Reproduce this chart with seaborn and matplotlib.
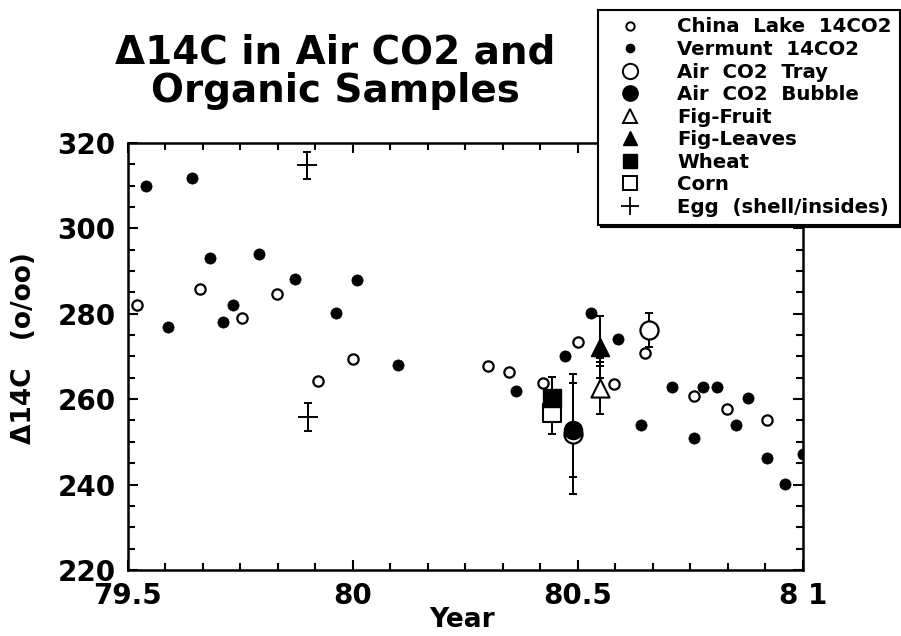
import matplotlib
matplotlib.use("Agg")
import matplotlib.pyplot as plt
from matplotlib.lines import Line2D
from matplotlib.ticker import MultipleLocator
import seaborn as sns

# data
china_x = [79.52, 79.66, 79.753, 79.831, 79.922, 80.0, 80.3, 80.347, 80.422,
           80.5, 80.58, 80.649, 80.758, 80.831, 80.92]
china_y = [282, 285.8, 279, 284.6, 264.3, 269.4, 267.8, 266.4, 263.8,
           273.4, 263.6, 270.8, 260.7, 257.7, 255.1]

verm_x = [79.54, 79.589, 79.642, 79.682, 79.711, 79.733, 79.791, 79.871, 79.962,
          80.009, 80.10, 80.362, 80.471, 80.529, 80.589, 80.64, 80.709, 80.758,
          80.778, 80.809, 80.851, 80.878, 80.92, 80.96, 81.0]
verm_y = [310, 276.9, 311.8, 293, 278, 282, 294, 288.2, 280.2,
          288, 268, 262, 270.1, 280.2, 274.1, 254, 262.9, 251,
          262.9, 262.9, 254, 260.3, 246.2, 240.1, 247.2]

tray_x = [80.489, 80.658]
tray_y = [251.8, 276.2]
tray_err = [14, 4]

bubble_x = [80.489]
bubble_y = [252.8]
bubble_err = [11]

fruit_x = [80.549]
fruit_y = [262.6]
fruit_err = [6]

leaves_x = [80.549]
leaves_y = [272.2]
leaves_err = [7.3]

wheat_x = [80.442]
wheat_y = [260.3]
wheat_err = [5]

corn_x = [80.442]
corn_y = [256.8]
corn_err = [5]

egg_x = [79.898, 79.9]
egg_y = [314.8, 255.8]
egg_err = [3.2, 3.2]
egg2_x = [80.549, 80.549, 80.549]
egg2_y = [269.6, 268.7, 267.8]

sns.set_style("ticks")
plt.rcParams['font.family'] = ['DejaVu Sans']
plt.rcParams['font.weight'] = 'bold'
plt.rcParams['text.color'] = 'black'
plt.rcParams['axes.labelcolor'] = 'black'
plt.rcParams['xtick.color'] = 'black'
plt.rcParams['ytick.color'] = 'black'

fig = plt.figure(figsize=(9.01, 6.36), dpi=100)
ax = fig.add_axes([0.142, 0.104, 0.749, 0.671])

ekw = dict(ecolor='black', elinewidth=1.4, capsize=3, capthick=1.4, linestyle='none', zorder=2)

ax.errorbar(wheat_x, wheat_y, yerr=wheat_err, fmt='none', **ekw)
ax.errorbar(corn_x, corn_y, yerr=corn_err, fmt='none', **ekw)
ax.errorbar(tray_x, tray_y, yerr=tray_err, fmt='none', **ekw)
ax.errorbar(bubble_x, bubble_y, yerr=bubble_err, fmt='none', **ekw)
ax.errorbar(fruit_x, fruit_y, yerr=fruit_err, fmt='none', **ekw)
ax.errorbar(leaves_x, leaves_y, yerr=leaves_err, fmt='none', **ekw)
ax.errorbar(egg_x, egg_y, yerr=egg_err, fmt='none', **ekw)

sns.scatterplot(x=china_x, y=china_y, ax=ax, marker='o', s=55,
                facecolor='white', edgecolor='black', linewidth=1.6, zorder=3)
sns.scatterplot(x=verm_x, y=verm_y, ax=ax, marker='o', s=65,
                color='black', edgecolor='black', linewidth=0.5, zorder=3)
sns.scatterplot(x=corn_x, y=corn_y, ax=ax, marker='s', s=150,
                facecolor='white', edgecolor='black', linewidth=1.5, zorder=3)
sns.scatterplot(x=wheat_x, y=wheat_y, ax=ax, marker='s', s=150,
                color='black', edgecolor='black', zorder=4)
sns.scatterplot(x=tray_x, y=tray_y, ax=ax, marker='o', s=170,
                facecolor='white', edgecolor='black', linewidth=1.6, zorder=3)
sns.scatterplot(x=bubble_x, y=bubble_y, ax=ax, marker='o', s=170,
                color='black', edgecolor='black', zorder=4)
sns.scatterplot(x=fruit_x, y=fruit_y, ax=ax, marker='^', s=170,
                facecolor='white', edgecolor='black', linewidth=1.5, zorder=3)
sns.scatterplot(x=leaves_x, y=leaves_y, ax=ax, marker='^', s=170,
                color='black', edgecolor='black', zorder=3)
sns.scatterplot(x=egg_x, y=egg_y, ax=ax, marker='+', s=200,
                color='black', linewidth=1.4, zorder=3)
sns.scatterplot(x=egg2_x, y=egg2_y, ax=ax, marker='_', s=40,
                color='black', linewidth=1.4, zorder=3)

ax.set_xlim(79.5, 81.0)
ax.set_ylim(220, 320)
ax.set_xticks([79.5, 80, 80.5, 81])
ax.set_xticklabels(['79.5', '80', '80.5', '8 1'])
ax.set_yticks([220, 240, 260, 280, 300, 320])
ax.xaxis.set_minor_locator(MultipleLocator(1 / 12))
ax.yaxis.set_minor_locator(MultipleLocator(5))
ax.tick_params(which='both', direction='in', top=True, right=True, width=1.5, color='black',
               labelcolor='black')
ax.tick_params(which='major', length=7, labelsize=20, pad=9)
ax.tick_params(which='minor', length=5)
for lab in ax.get_xticklabels() + ax.get_yticklabels():
    lab.set_fontweight('bold')
for sp in ax.spines.values():
    sp.set_linewidth(1.8)
    sp.set_color('black')

ax.set_xlabel('Year', fontsize=19, fontweight='bold')
ax.xaxis.set_label_coords(0.495, -0.088)
ax.set_ylabel('\u039414C   (o/oo)', fontsize=19, fontweight='bold', labelpad=10)
ax.yaxis.set_label_coords(-0.135, 0.52)

fig.text(0.372, 0.887, '\u039414C in Air CO2 and\nOrganic Samples', ha='center', va='center',
         fontsize=28, fontweight='bold', linespacing=1.0)

handles = [
    Line2D([], [], marker='o', ls='none', ms=6, mfc='white', mec='black', mew=1.4),
    Line2D([], [], marker='o', ls='none', ms=6, mfc='black', mec='black'),
    Line2D([], [], marker='o', ls='none', ms=11, mfc='white', mec='black', mew=1.4),
    Line2D([], [], marker='o', ls='none', ms=11, mfc='black', mec='black'),
    Line2D([], [], marker='^', ls='none', ms=10, mfc='white', mec='black', mew=1.4),
    Line2D([], [], marker='^', ls='none', ms=10, mfc='black', mec='black'),
    Line2D([], [], marker='s', ls='none', ms=10, mfc='black', mec='black'),
    Line2D([], [], marker='s', ls='none', ms=10, mfc='white', mec='black', mew=1.4),
    Line2D([], [], marker='+', ls='none', ms=13, color='black', mew=1.3),
]
labels = ['China  Lake  14CO2', 'Vermunt  14CO2', 'Air  CO2  Tray', 'Air  CO2  Bubble',
          'Fig-Fruit', 'Fig-Leaves', 'Wheat', 'Corn', 'Egg  (shell/insides)']
leg = fig.legend(handles, labels, loc='upper left', bbox_to_anchor=(0.664, 0.985),
                 frameon=True, fancybox=False, shadow={'color': 'black', 'alpha': 1},
                 prop={'size': 14.2, 'weight': 'bold'}, labelspacing=0.18,
                 handlelength=2.4, handletextpad=1.2, borderpad=0.4, borderaxespad=0)
leg.get_frame().set_edgecolor('black')
leg.get_frame().set_linewidth(1.5)
leg.get_frame().set_alpha(1)

fig.savefig('out.png', dpi=100)
